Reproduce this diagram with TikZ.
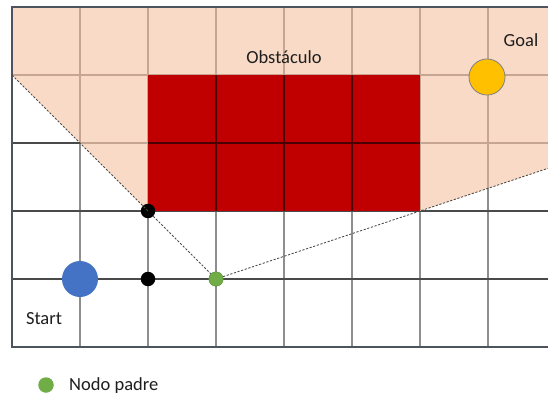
\documentclass[tikz,border=0pt]{standalone}
\usepackage{fontspec}
\setmainfont{Carlito}
\definecolor{freezone}{HTML}{F8DAC6}
\definecolor{obstred}{HTML}{C00000}
\definecolor{gridgrey}{HTML}{8E8E8E}
\definecolor{gridtan}{HTML}{C6A692}
\definecolor{griddark}{HTML}{4A0000}
\definecolor{rowline}{HTML}{4A4A4A}
\definecolor{frameline}{HTML}{4E545E}
\definecolor{startblue}{HTML}{4472C4}
\definecolor{goalyellow}{HTML}{FFC000}
\definecolor{padregreen}{HTML}{70AD47}
\definecolor{labeltext}{HTML}{1E1E1E}
\begin{document}
\begin{tikzpicture}[x=1pt,y=-1pt,
  vline/.style={line width=1.4pt, draw=gridgrey},
  hline/.style={line width=1.1pt, draw=rowline},
  sightline/.style={line width=0.8pt, draw=black!70, dash pattern=on 2.2pt off 1.6pt},
  bigdot/.style={circle, minimum size=36pt, inner sep=0pt},
  smalldot/.style={circle, minimum size=14.5pt, inner sep=0pt},
  lbl/.style={font=\fontsize{18.5}{22}\selectfont, text=labeltext, inner sep=0pt}]

\useasboundingbox (0,0) rectangle (548,398);
\fill[white] (0,0) rectangle (548,398);

% visible free zone
\fill[freezone] (12,7) -- (548,7) -- (548,168.33) -- (420,211) -- (148,211) -- (12,75) -- cycle;

% grid
\foreach \x in {80,148,...,488} \draw[vline] (\x,7) -- (\x,347);
\foreach \y in {75,143,211,279} \draw[hline] (12,\y) -- (548,\y);

% grid lines tinted inside the free zone
\begin{scope}
  \clip (12,7) -- (548,7) -- (548,168.33) -- (420,211) -- (148,211) -- (12,75) -- cycle;
  \foreach \x in {80,148,...,488} \draw[vline, draw=gridtan] (\x,7) -- (\x,347);
  \foreach \y in {75,143} \draw[hline, draw=gridtan] (12,\y) -- (548,\y);
\end{scope}

% obstacle block
\fill[obstred] (148,75) rectangle (420,211);
\begin{scope}
  \clip (148,75) rectangle (420,211);
  \foreach \x in {216,284,352} \draw[line width=1.4pt, griddark] (\x,75) -- (\x,211);
  \draw[line width=1.2pt, griddark] (148,143) -- (420,143);
\end{scope}

% frame
\draw[line width=1.3pt, frameline] (548,7) -- (12,7) -- (12,347) -- (548,347);

% nodes
\node[bigdot, fill=startblue] (start) at (80,279) {};
\node[bigdot, fill=goalyellow, draw=gray, line width=0.8pt] (goal) at (487,77) {};
\node[smalldot, fill=black] (corner) at (148,211) {};
\node[smalldot, fill=black] (side) at (148,279) {};

% lines of sight
\coordinate (edgeL) at (12,75);
\coordinate (cornerR) at (420,211);
\coordinate (edgeR) at (548,168.33);
\node[smalldot, fill=padregreen, draw=padregreen!80!black, line width=0.4pt] (padre) at (216,279) {};
\draw[sightline] (edgeL) -- (corner.center);
\draw[sightline] (corner) -- (padre);
\draw[sightline] (padre) -- (cornerR) -- (edgeR);

% labels
\node[lbl] (obstlabel) at (284,57) {Obstáculo};
\node[lbl] (goallabel) at (521,40) {Goal};
\node[lbl] (startlabel) at (44,319) {Start};

% legend
\node[smalldot, minimum size=15.5pt, fill=padregreen] (legdot) at (46,385) {};
\node[lbl, anchor=west] (legtext) at (69,385.5) {Nodo padre};
\end{tikzpicture}
\end{document}
